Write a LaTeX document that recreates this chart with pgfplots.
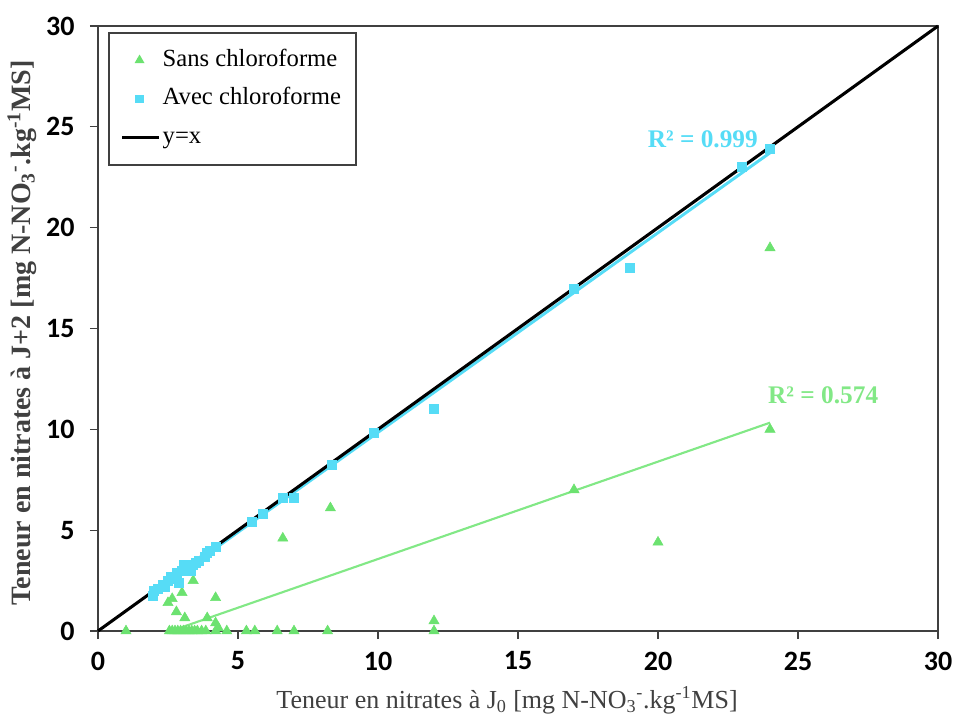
\documentclass[border=0pt]{standalone}
\usepackage{fontspec}
\setmainfont{Liberation Serif}
\newfontfamily\serifbody{Liberation Serif}
\newfontfamily\tickfont{Carlito}
\usepackage{pgfplots}
\pgfplotsset{compat=1.18}
\definecolor{gtri}{RGB}{108,226,112}
\definecolor{gline}{RGB}{130,232,134}
\definecolor{csq}{RGB}{86,220,246}
\definecolor{axgray}{RGB}{64,64,64}
\begin{document}
\begin{tikzpicture}
\begin{axis}[
  scale only axis,
  width=630pt, height=453.75pt,
  xmin=0, xmax=30, ymin=0, ymax=30,
  xtick={0,5,...,30}, ytick={0,5,...,30},
  xtick pos=lower, ytick pos=left,
  tick align=outside,
  major tick length=6pt,
  axis line style={axgray, line width=1.1pt},
  every tick/.style={axgray, line width=1pt},
  /pgf/number format/assume math mode=true,
  tick label style={font=\tickfont\bfseries\fontsize{21}{24}\selectfont},
  xticklabel style={yshift=-6pt},
  yticklabel style={xshift=-8pt},
  xlabel={Teneur en nitrates à J\textsubscript{0} [mg N-NO\textsubscript{3}\textsuperscript{-}.kg\textsuperscript{-1}MS]},
  ylabel={\textbf{Teneur en nitrates à J+2 [mg N-NO\textsubscript{3}\textsuperscript{-}.kg\textsuperscript{-1}MS]}},
  xlabel style={at={(axis description cs:0.487,0)}, anchor=center, yshift=-51.75pt, font=\serifbody\mdseries\fontsize{19.5}{22}\selectfont, text=axgray},
  ylabel style={at={(axis description cs:0,0.4926)}, anchor=center, yshift=57pt, font=\serifbody\bfseries\fontsize{21}{24}\selectfont, text=axgray},
  legend style={at={(axis description cs:0.012,0.99)}, anchor=north west,
    draw=axgray, line width=1.3pt, font=\serifbody\mdseries\fontsize{18.5}{21}\selectfont,
    inner xsep=9pt, inner ysep=10pt, row sep=8pt, legend cell align=left,
    nodes={text height=13pt, text depth=4pt}},
  legend image code/.code={\draw[#1] (0cm,0cm) -- (0.95cm,0cm);},
  clip=false,
]
% fit lines
\addplot[gline, line width=1.6pt, forget plot] coordinates {(3.0,0.19) (24,10.33)};
\addplot[csq, line width=2.2pt, forget plot] coordinates {(1.95,1.88) (24,23.71)};
% Sans chloroforme
\addplot[only marks, mark=triangle*, mark size=4.4pt, color=gtri, mark options={draw=gtri, fill=gtri},
  legend image code/.code={\draw[mark size=3pt, mark options={draw=gtri,fill=gtri}] plot coordinates {(0.45cm,0cm)};}]
coordinates {
(1.0,0) (2.55,0) (2.65,0) (2.75,0) (2.85,0) (2.95,0) (3.05,0) (3.15,0) (3.25,0) (3.35,0) (3.45,0) (3.55,0) (3.7,0) (3.85,0)
(4.2,0) (4.6,0) (5.3,0) (5.6,0) (6.4,0) (7.0,0) (8.2,0) (12,0) (12,0.5)
(2.5,1.4) (2.65,1.6) (2.8,0.95) (3.0,1.9) (3.1,0.65) (3.4,2.5) (3.9,0.65) (4.2,1.65) (4.2,0.4) (4.3,0.15)
(6.6,4.6) (8.3,6.1) (17,7.0) (20,4.4) (24,10.0) (24,19.0)
};
\addlegendentry{Sans chloroforme}
% Avec chloroforme
\addplot[only marks, mark=square*, mark size=3.4pt, color=csq, mark options={draw=csq, fill=csq},
  legend image code/.code={\draw[mark size=2.6pt, mark options={draw=csq,fill=csq}] plot coordinates {(0.45cm,0cm)};}]
coordinates {
(1.95,1.75) (2.0,2.0) (2.15,2.1) (2.3,2.3) (2.4,2.2) (2.5,2.5) (2.6,2.7) (2.7,2.6) (2.8,2.9) (2.9,2.4)
(3.0,3.0) (3.05,3.3) (3.1,3.1) (3.2,3.2) (3.3,3.0) (3.4,3.3) (3.5,3.4) (3.6,3.5) (3.8,3.7) (3.9,3.9)
(4.0,4.0) (4.2,4.2) (5.5,5.4) (5.9,5.8) (6.6,6.6) (7.0,6.6) (8.35,8.25) (9.85,9.85) (12,11.0)
(17,16.95) (19,18.0) (23,23.0) (24,23.9)
};
\addlegendentry{Avec chloroforme}
% y = x
\addplot[black, line width=2.3pt] coordinates {(0,0) (30,30)};
\addlegendentry{y=x}
\node[text=csq, font=\serifbody\bfseries\fontsize{19}{22}\selectfont] at (axis cs:21.6,24.4) {R² = 0.999};
\node[text=gline, font=\serifbody\bfseries\fontsize{19}{22}\selectfont] at (axis cs:25.9,11.7) {R² = 0.574};
\coordinate (O) at (rel axis cs:0,0);
\end{axis}
\pgfresetboundingbox
\path ([shift={(-73.5pt,-65.25pt)}]O) rectangle ([shift={(644.25pt,473.25pt)}]O);
\end{tikzpicture}
\end{document}
